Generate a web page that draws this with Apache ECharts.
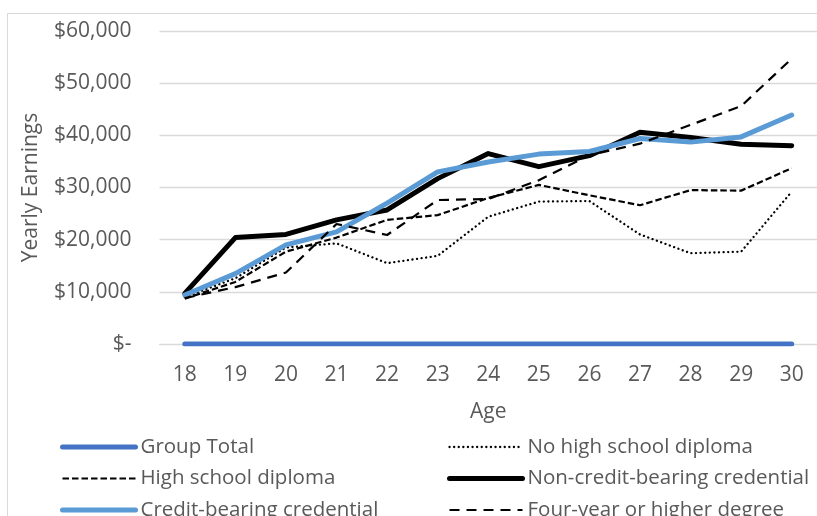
<!DOCTYPE html>
<html>
<head>
<meta charset="utf-8">
<script src="https://cdn.jsdelivr.net/npm/echarts@6/dist/echarts.min.js"></script>
<style>
html,body{margin:0;padding:0;background:#fff;}
#c{width:817px;height:516px;}
</style>
</head>
<body>
<div id="c"></div>
<script>
const ages = ['18','19','20','21','22','23','24','25','26','27','28','29','30'];
const groupTotal = [0,0,0,0,0,0,0,0,0,0,0,0,0];
const noHighSchool = [9000,12600,18500,19300,15500,16900,24400,27300,27400,21000,17400,17700,29200];
const highSchool = [8700,11900,17700,20400,23800,24700,28000,30500,28500,26600,29500,29400,33700];
const nonCredit = [9700,20400,21000,23800,25700,31700,36500,34000,36100,40600,39600,38300,38000];
const creditBearing = [9400,13500,19000,21500,27000,33000,34900,36400,36900,39400,38700,39700,43900];
const fourYear = [8800,10900,13700,23000,20900,27600,27800,31400,36200,38400,42000,45600,54700];

const FONT = 'Open Sans';
const TXT = '#595959';

function fmt(v){
  if (v === 0) return '$-';
  return '$' + String(v).replace(/\B(?=(\d{3})+(?!\d))/g, ',');
}

const chart = echarts.init(document.getElementById('c'), null, {renderer:'canvas'});
const legendCommon = {
  orient:'vertical', top:431, height:300, itemWidth:73, itemHeight:14, itemGap:9.5,
  itemStyle:{opacity:0, borderWidth:0},
  lineStyle:{width:'inherit', type:'inherit', cap:'inherit'},
  textStyle:{fontFamily:FONT, fontSize:20.5, color:TXT, lineHeight:22}
};
chart.setOption({
  animation:false,
  textStyle:{fontFamily:FONT},
  graphic:[{type:'rect', shape:{x:7.5,y:13.5,width:900,height:600}, style:{fill:null, stroke:'#D9D9D9', lineWidth:1}, silent:true, z:-10}],
  grid:{left:159.5, right:-4.5, top:31, bottom:172, containLabel:false},
  legend:[
    Object.assign({left:55, data:['Group Total','High school diploma','Credit-bearing credential']}, legendCommon),
    Object.assign({left:442, data:['No high school diploma','Non-credit-bearing credential','Four-year or higher degree']}, legendCommon)
  ],
  xAxis:{
    type:'category', data:ages, boundaryGap:true,
    axisLine:{show:true, lineStyle:{color:'#D9D9D9', width:1}},
    axisTick:{show:false},
    axisLabel:{fontFamily:FONT, fontSize:21, color:TXT, margin:21},
    name:'Age', nameLocation:'middle', nameGap:58,
    nameTextStyle:{fontFamily:FONT, fontSize:21, color:TXT}
  },
  yAxis:{
    type:'value', min:0, max:60000, interval:10000,
    axisLine:{show:false}, axisTick:{show:false},
    splitLine:{lineStyle:{color:'#D9D9D9', width:1.3}},
    axisLabel:{fontFamily:FONT, fontSize:21, color:TXT, margin:28, formatter:fmt},
    name:'Yearly Earnings', nameLocation:'middle', nameGap:118, nameRotate:90,
    nameTextStyle:{fontFamily:FONT, fontSize:21, color:TXT}
  },
  series:[
    {name:'Group Total', type:'line', data:groupTotal, symbol:'none',
     lineStyle:{color:'#4472C4', width:5, cap:'round'}, itemStyle:{color:'#4472C4'}},
    {name:'No high school diploma', type:'line', data:noHighSchool, symbol:'none',
     lineStyle:{color:'#000', width:2.3, type:[0.1,4.5], cap:'round'}, itemStyle:{color:'#000'}},
    {name:'High school diploma', type:'line', data:highSchool, symbol:'none',
     lineStyle:{color:'#000', width:2.2, type:[6.5,3], cap:'butt'}, itemStyle:{color:'#000'}},
    {name:'Non-credit-bearing credential', type:'line', data:nonCredit, symbol:'none',
     lineStyle:{color:'#000', width:5, cap:'round', join:'round'}, itemStyle:{color:'#000'}},
    {name:'Credit-bearing credential', type:'line', data:creditBearing, symbol:'none',
     lineStyle:{color:'#5B9BD5', width:5, cap:'round', join:'round'}, itemStyle:{color:'#5B9BD5'}},
    {name:'Four-year or higher degree', type:'line', data:fourYear, symbol:'none',
     lineStyle:{color:'#000', width:2.2, type:[10,7], cap:'butt'}, itemStyle:{color:'#000'}}
  ]
});
</script>
</body>
</html>
